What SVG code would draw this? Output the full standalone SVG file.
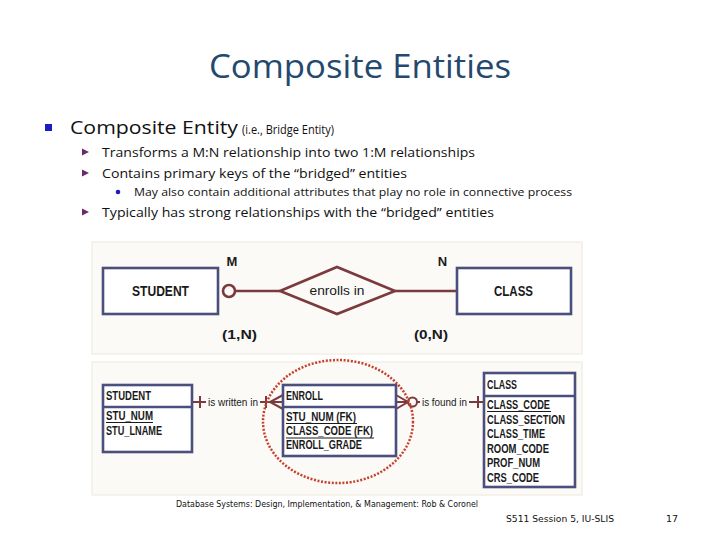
<svg xmlns="http://www.w3.org/2000/svg" width="720" height="540" viewBox="0 0 720 540">
<style>
.title{font-family:"Open Sans","Liberation Sans",sans-serif;font-size:32px;fill:#25486f}
.body{font-family:"Open Sans","Liberation Sans",sans-serif;fill:#111}
.er{font-family:"Liberation Sans",Arial,sans-serif;font-weight:bold;fill:#1a1a1a}
.erl{font-family:"Liberation Sans",Arial,sans-serif;fill:#1a1a1a}
.tb{font-family:"Liberation Sans",Arial,sans-serif;font-weight:bold;font-size:12px;fill:#1a1a1a}
.ent{fill:#ffffff;stroke:#4a4f7e;stroke-width:2.6}
.rel{fill:none;stroke:#7a3a3e;stroke-width:2.6}
.rel2{fill:none;stroke:#7a3a3e;stroke-width:2}
.ul{stroke:#1a1a1a;stroke-width:1}
.foot{font-family:"DejaVu Sans",Tahoma,sans-serif;fill:#111}
.panel{fill:#fbfaf7;stroke:#f1ece2;stroke-width:1.2}
</style>

<text class="title" x="360" y="78" text-anchor="middle" textLength="302" lengthAdjust="spacingAndGlyphs">Composite Entities</text>

<g id="bullets">
<rect x="45" y="124" width="7" height="7" fill="#1c1cc4"/>
<text class="body" x="70" y="134" font-size="18" textLength="168" lengthAdjust="spacingAndGlyphs">Composite Entity</text>
<text class="body" x="242" y="134" font-size="12.5" textLength="92" lengthAdjust="spacingAndGlyphs">(i.e., Bridge Entity)</text>
<polygon points="82,148.5 89,152 82,155.5" fill="#6b2a6b"/>
<text class="body" x="102" y="157" font-size="13" textLength="373" lengthAdjust="spacingAndGlyphs">Transforms a M:N relationship into two 1:M relationships</text>
<polygon points="82,169.5 89,173 82,176.5" fill="#6b2a6b"/>
<text class="body" x="102" y="178" font-size="13" textLength="305" lengthAdjust="spacingAndGlyphs">Contains primary keys of the “bridged” entities</text>
<circle cx="118" cy="192" r="2.3" fill="#1c1cc4"/>
<text class="body" x="134" y="196" font-size="11" textLength="438" lengthAdjust="spacingAndGlyphs">May also contain additional attributes that play no role in connective process</text>
<polygon points="82,208.5 89,212 82,215.5" fill="#6b2a6b"/>
<text class="body" x="102" y="217" font-size="13" textLength="392" lengthAdjust="spacingAndGlyphs">Typically has strong relationships with the “bridged” entities</text>
</g>

<rect class="panel" x="92" y="242" width="490" height="112"/>
<rect class="panel" x="92" y="362" width="490" height="133"/>

<g id="connectors">
<circle class="rel" cx="229" cy="291" r="6" fill="#fff"/>
<line class="rel" x1="235" y1="291" x2="280" y2="291"/>
<line class="rel" x1="395" y1="291" x2="457" y2="291"/>
<line class="rel2" x1="192" y1="402" x2="206" y2="402"/>
<line class="rel2" x1="200" y1="396" x2="200" y2="408"/>
<line class="rel2" x1="260" y1="402" x2="283" y2="402"/>
<line class="rel2" x1="266" y1="396" x2="266" y2="408"/>
<polyline class="rel2" points="283,395 270,402 283,409"/>
<polyline class="rel2" points="396,395 408,402 396,409"/>
<line class="rel2" x1="396" y1="402" x2="408" y2="402"/>
<circle class="rel2" cx="412.5" cy="402" r="4.5" fill="#fff"/>
<line class="rel2" x1="417" y1="402" x2="420" y2="402"/>
<line class="rel2" x1="469" y1="402" x2="484" y2="402"/>
<line class="rel2" x1="478" y1="396" x2="478" y2="408"/>
<text class="erl" x="208" y="406" font-size="11.5" textLength="50" lengthAdjust="spacingAndGlyphs">is written in</text>
<text class="erl" x="422" y="406" font-size="11.5" textLength="45" lengthAdjust="spacingAndGlyphs">is found in</text>
</g>

<g id="rel-enrolls">
<polygon class="rel" points="280,291 337,267 395,291 337,314" fill="#fff"/>
<text class="erl" x="337" y="295" font-size="13" text-anchor="middle" textLength="55" lengthAdjust="spacingAndGlyphs">enrolls in</text>
</g>

<g id="student-er">
<rect class="ent" x="103" y="268" width="115" height="46"/>
<text class="er" x="160.5" y="296" font-size="15" text-anchor="middle" textLength="57" lengthAdjust="spacingAndGlyphs">STUDENT</text>
</g>

<g id="class-er">
<rect class="ent" x="457" y="268" width="114" height="46"/>
<text class="er" x="513.5" y="296" font-size="15" text-anchor="middle" textLength="39" lengthAdjust="spacingAndGlyphs">CLASS</text>
</g>

<g id="cardinalities">
<text class="er" x="232" y="266" font-size="13" text-anchor="middle">M</text>
<text class="er" x="442.5" y="266" font-size="13" text-anchor="middle">N</text>
<text class="er" x="239.5" y="339" font-size="13" text-anchor="middle" textLength="35" lengthAdjust="spacingAndGlyphs">(1,N)</text>
<text class="er" x="431" y="339" font-size="13" text-anchor="middle" textLength="34" lengthAdjust="spacingAndGlyphs">(0,N)</text>
</g>

<g id="student-table">
<rect class="ent" x="103" y="385" width="89" height="67"/>
<line class="ent" x1="103" y1="407" x2="192" y2="407"/>
<text class="tb" x="106" y="400" textLength="45" lengthAdjust="spacingAndGlyphs">STUDENT</text>
<text class="tb" x="106" y="420" textLength="47" lengthAdjust="spacingAndGlyphs">STU_NUM</text>
<line class="ul" x1="106" y1="422.5" x2="153" y2="422.5"/>
<text class="tb" x="106" y="435" textLength="56" lengthAdjust="spacingAndGlyphs">STU_LNAME</text>
</g>

<g id="enroll-table">
<rect class="ent" x="283" y="385" width="113" height="71"/>
<line class="ent" x1="283" y1="407" x2="396" y2="407"/>
<text class="tb" x="286" y="400" textLength="37" lengthAdjust="spacingAndGlyphs">ENROLL</text>
<text class="tb" x="286" y="421" textLength="70" lengthAdjust="spacingAndGlyphs">STU_NUM (FK)</text>
<line class="ul" x1="286" y1="423.5" x2="357" y2="423.5"/>
<text class="tb" x="286" y="435" textLength="87" lengthAdjust="spacingAndGlyphs">CLASS_CODE (FK)</text>
<line class="ul" x1="286" y1="438" x2="374" y2="438"/>
<text class="tb" x="286" y="449" textLength="76" lengthAdjust="spacingAndGlyphs">ENROLL_GRADE</text>
</g>

<g id="class-table">
<rect class="ent" x="484" y="373" width="91" height="114"/>
<line class="ent" x1="484" y1="396" x2="575" y2="396"/>
<text class="tb" x="487" y="389" textLength="30" lengthAdjust="spacingAndGlyphs">CLASS</text>
<text class="tb" x="487" y="409" textLength="63" lengthAdjust="spacingAndGlyphs">CLASS_CODE</text>
<line class="ul" x1="487" y1="411.5" x2="551" y2="411.5"/>
<text class="tb" x="487" y="423.5" textLength="78" lengthAdjust="spacingAndGlyphs">CLASS_SECTION</text>
<text class="tb" x="487" y="438" textLength="58" lengthAdjust="spacingAndGlyphs">CLASS_TIME</text>
<text class="tb" x="487" y="452.5" textLength="62" lengthAdjust="spacingAndGlyphs">ROOM_CODE</text>
<text class="tb" x="487" y="467" textLength="53" lengthAdjust="spacingAndGlyphs">PROF_NUM</text>
<text class="tb" x="487" y="481.5" textLength="52" lengthAdjust="spacingAndGlyphs">CRS_CODE</text>
</g>

<g id="highlight">
<ellipse cx="338" cy="421.5" rx="75" ry="61.5" fill="none" stroke="#c6402a" stroke-width="2.5" stroke-dasharray="2 1.6"/>
</g>

<g id="footer">
<text class="foot" x="176" y="507" font-size="8.5" textLength="302" lengthAdjust="spacingAndGlyphs">Database Systems: Design, Implementation, &amp; Management: Rob &amp; Coronel</text>
<text class="foot" x="506" y="522" font-size="9.5" textLength="108" lengthAdjust="spacingAndGlyphs">S511 Session 5, IU-SLIS</text>
<text class="foot" x="666" y="522" font-size="9.5">17</text>
</g>
</svg>
